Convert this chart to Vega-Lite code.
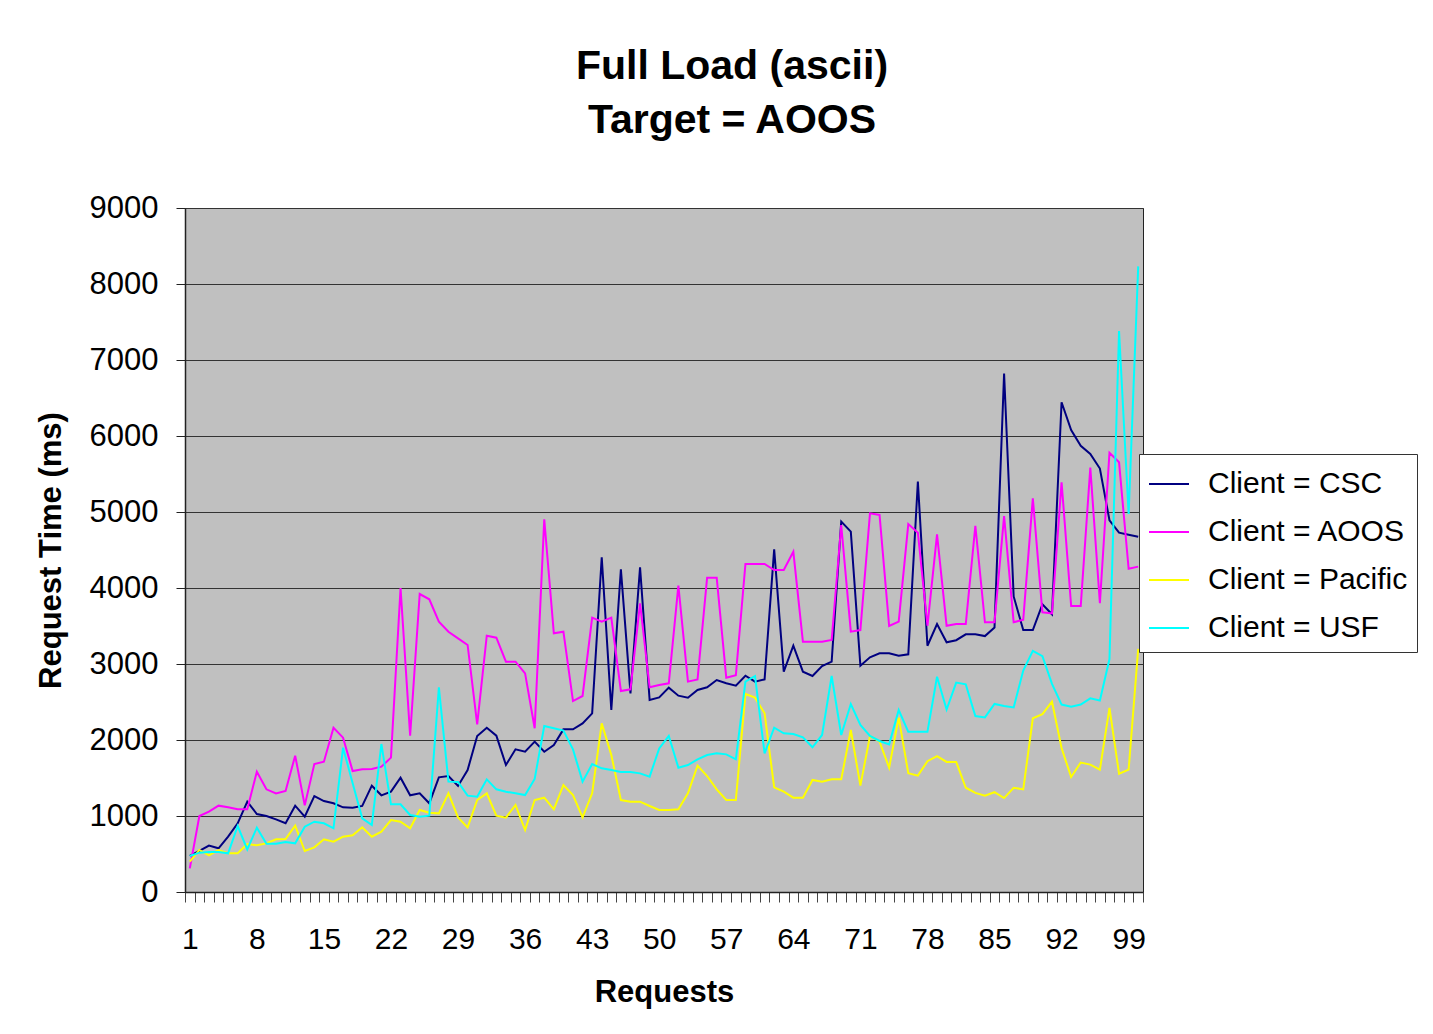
{
  "$schema": "https://vega.github.io/schema/vega-lite/v6.json",
  "width": 958,
  "height": 684,
  "autosize": {"type": "none"},
  "padding": {"left": 185, "top": 208, "right": 290, "bottom": 142},
  "background": "white",
  "title": {
    "text": ["Full Load (ascii)", "Target = AOOS"],
    "font": "Liberation Sans",
    "fontSize": 41,
    "fontWeight": "bold",
    "lineHeight": 54,
    "color": "black",
    "anchor": "middle",
    "baseline": "bottom",
    "offset": 9,
    "dx": 68
  },
  "config": {
    "view": {"fill": "#C0C0C0", "stroke": "#222222", "strokeWidth": 1},
    "font": "Liberation Sans"
  },
  "data": {
    "values": [
      {"r":1,"CSC":474,"AOOS":311,"Pacific":399,"USF":474},
      {"r":2,"CSC":540,"AOOS":1000,"Pacific":553,"USF":518},
      {"r":3,"CSC":610,"AOOS":1057,"Pacific":482,"USF":526},
      {"r":4,"CSC":575,"AOOS":1136,"Pacific":553,"USF":526},
      {"r":5,"CSC":728,"AOOS":1114,"Pacific":509,"USF":509},
      {"r":6,"CSC":904,"AOOS":1088,"Pacific":509,"USF":868},
      {"r":7,"CSC":1189,"AOOS":1088,"Pacific":632,"USF":561},
      {"r":8,"CSC":1026,"AOOS":1583,"Pacific":614,"USF":846},
      {"r":9,"CSC":1000,"AOOS":1351,"Pacific":640,"USF":636},
      {"r":10,"CSC":956,"AOOS":1298,"Pacific":693,"USF":636},
      {"r":11,"CSC":904,"AOOS":1329,"Pacific":697,"USF":658},
      {"r":12,"CSC":1136,"AOOS":1794,"Pacific":873,"USF":640},
      {"r":13,"CSC":991,"AOOS":1140,"Pacific":539,"USF":860},
      {"r":14,"CSC":1263,"AOOS":1684,"Pacific":588,"USF":925},
      {"r":15,"CSC":1197,"AOOS":1715,"Pacific":693,"USF":904},
      {"r":16,"CSC":1167,"AOOS":2162,"Pacific":662,"USF":838},
      {"r":17,"CSC":1114,"AOOS":2031,"Pacific":728,"USF":1899},
      {"r":18,"CSC":1110,"AOOS":1592,"Pacific":746,"USF":1430},
      {"r":19,"CSC":1132,"AOOS":1614,"Pacific":851,"USF":969},
      {"r":20,"CSC":1399,"AOOS":1618,"Pacific":728,"USF":882},
      {"r":21,"CSC":1272,"AOOS":1649,"Pacific":794,"USF":1947},
      {"r":22,"CSC":1320,"AOOS":1768,"Pacific":947,"USF":1154},
      {"r":23,"CSC":1504,"AOOS":4000,"Pacific":925,"USF":1154},
      {"r":24,"CSC":1272,"AOOS":2057,"Pacific":838,"USF":1013},
      {"r":25,"CSC":1298,"AOOS":3921,"Pacific":1079,"USF":991},
      {"r":26,"CSC":1167,"AOOS":3851,"Pacific":1044,"USF":1004},
      {"r":27,"CSC":1509,"AOOS":3557,"Pacific":1035,"USF":2693},
      {"r":28,"CSC":1526,"AOOS":3425,"Pacific":1298,"USF":1452},
      {"r":29,"CSC":1395,"AOOS":3338,"Pacific":982,"USF":1447},
      {"r":30,"CSC":1605,"AOOS":3250,"Pacific":851,"USF":1268},
      {"r":31,"CSC":2053,"AOOS":2206,"Pacific":1210,"USF":1254},
      {"r":32,"CSC":2162,"AOOS":3373,"Pacific":1298,"USF":1482},
      {"r":33,"CSC":2057,"AOOS":3346,"Pacific":1004,"USF":1351},
      {"r":34,"CSC":1671,"AOOS":3031,"Pacific":978,"USF":1320},
      {"r":35,"CSC":1877,"AOOS":3031,"Pacific":1145,"USF":1298},
      {"r":36,"CSC":1846,"AOOS":2877,"Pacific":816,"USF":1276},
      {"r":37,"CSC":1978,"AOOS":2154,"Pacific":1210,"USF":1487},
      {"r":38,"CSC":1846,"AOOS":4904,"Pacific":1241,"USF":2184},
      {"r":39,"CSC":1934,"AOOS":3404,"Pacific":1088,"USF":2154},
      {"r":40,"CSC":2140,"AOOS":3425,"Pacific":1408,"USF":2123},
      {"r":41,"CSC":2140,"AOOS":2513,"Pacific":1276,"USF":1877},
      {"r":42,"CSC":2219,"AOOS":2579,"Pacific":982,"USF":1452},
      {"r":43,"CSC":2350,"AOOS":3610,"Pacific":1298,"USF":1684},
      {"r":44,"CSC":4404,"AOOS":3557,"Pacific":2219,"USF":1627},
      {"r":45,"CSC":2395,"AOOS":3610,"Pacific":1803,"USF":1605},
      {"r":46,"CSC":4246,"AOOS":2645,"Pacific":1210,"USF":1579},
      {"r":47,"CSC":2614,"AOOS":2667,"Pacific":1189,"USF":1579},
      {"r":48,"CSC":4272,"AOOS":3798,"Pacific":1189,"USF":1561},
      {"r":49,"CSC":2526,"AOOS":2693,"Pacific":1132,"USF":1518},
      {"r":50,"CSC":2560,"AOOS":2724,"Pacific":1079,"USF":1890},
      {"r":51,"CSC":2689,"AOOS":2746,"Pacific":1079,"USF":2053},
      {"r":52,"CSC":2583,"AOOS":4031,"Pacific":1088,"USF":1636},
      {"r":53,"CSC":2557,"AOOS":2768,"Pacific":1298,"USF":1671},
      {"r":54,"CSC":2658,"AOOS":2798,"Pacific":1662,"USF":1746},
      {"r":55,"CSC":2693,"AOOS":4136,"Pacific":1526,"USF":1803},
      {"r":56,"CSC":2789,"AOOS":4136,"Pacific":1351,"USF":1825},
      {"r":57,"CSC":2746,"AOOS":2820,"Pacific":1211,"USF":1811},
      {"r":58,"CSC":2715,"AOOS":2851,"Pacific":1211,"USF":1746},
      {"r":59,"CSC":2846,"AOOS":4316,"Pacific":2605,"USF":2768},
      {"r":60,"CSC":2768,"AOOS":4316,"Pacific":2557,"USF":2842},
      {"r":61,"CSC":2798,"AOOS":4316,"Pacific":2351,"USF":1825},
      {"r":62,"CSC":4509,"AOOS":4237,"Pacific":1377,"USF":2162},
      {"r":63,"CSC":2899,"AOOS":4237,"Pacific":1320,"USF":2088},
      {"r":64,"CSC":3241,"AOOS":4478,"Pacific":1241,"USF":2079},
      {"r":65,"CSC":2899,"AOOS":3294,"Pacific":1241,"USF":2035},
      {"r":66,"CSC":2842,"AOOS":3294,"Pacific":1474,"USF":1904},
      {"r":67,"CSC":2974,"AOOS":3294,"Pacific":1452,"USF":2066},
      {"r":68,"CSC":3031,"AOOS":3316,"Pacific":1482,"USF":2842},
      {"r":69,"CSC":4873,"AOOS":4829,"Pacific":1482,"USF":2066},
      {"r":70,"CSC":4741,"AOOS":3425,"Pacific":2132,"USF":2474},
      {"r":71,"CSC":2978,"AOOS":3447,"Pacific":1399,"USF":2197},
      {"r":72,"CSC":3088,"AOOS":4982,"Pacific":2053,"USF":2053},
      {"r":73,"CSC":3140,"AOOS":4961,"Pacific":1978,"USF":1987},
      {"r":74,"CSC":3140,"AOOS":3500,"Pacific":1636,"USF":1943},
      {"r":75,"CSC":3110,"AOOS":3557,"Pacific":2295,"USF":2395},
      {"r":76,"CSC":3127,"AOOS":4841,"Pacific":1562,"USF":2107},
      {"r":77,"CSC":5399,"AOOS":4728,"Pacific":1531,"USF":2107},
      {"r":78,"CSC":3240,"AOOS":3503,"Pacific":1721,"USF":2107},
      {"r":79,"CSC":3526,"AOOS":4705,"Pacific":1789,"USF":2832},
      {"r":80,"CSC":3286,"AOOS":3503,"Pacific":1712,"USF":2401},
      {"r":81,"CSC":3313,"AOOS":3526,"Pacific":1712,"USF":2755},
      {"r":82,"CSC":3390,"AOOS":3526,"Pacific":1372,"USF":2732},
      {"r":83,"CSC":3390,"AOOS":4819,"Pacific":1304,"USF":2315},
      {"r":84,"CSC":3367,"AOOS":3549,"Pacific":1268,"USF":2297},
      {"r":85,"CSC":3481,"AOOS":3549,"Pacific":1313,"USF":2474},
      {"r":86,"CSC":6823,"AOOS":4946,"Pacific":1236,"USF":2447},
      {"r":87,"CSC":3889,"AOOS":3549,"Pacific":1372,"USF":2429},
      {"r":88,"CSC":3447,"AOOS":3583,"Pacific":1350,"USF":2914},
      {"r":89,"CSC":3447,"AOOS":5180,"Pacific":2286,"USF":3174},
      {"r":90,"CSC":3785,"AOOS":3681,"Pacific":2341,"USF":3104},
      {"r":91,"CSC":3654,"AOOS":3665,"Pacific":2504,"USF":2738},
      {"r":92,"CSC":6444,"AOOS":5392,"Pacific":1894,"USF":2466},
      {"r":93,"CSC":6079,"AOOS":3763,"Pacific":1512,"USF":2439},
      {"r":94,"CSC":5872,"AOOS":3763,"Pacific":1703,"USF":2466},
      {"r":95,"CSC":5763,"AOOS":5583,"Pacific":1676,"USF":2548},
      {"r":96,"CSC":5572,"AOOS":3801,"Pacific":1610,"USF":2520},
      {"r":97,"CSC":4891,"AOOS":5779,"Pacific":2422,"USF":3065},
      {"r":98,"CSC":4728,"AOOS":5654,"Pacific":1556,"USF":7381},
      {"r":99,"CSC":4700,"AOOS":4253,"Pacific":1610,"USF":4973},
      {"r":100,"CSC":4673,"AOOS":4281,"Pacific":3200,"USF":8232}
    ]
  },
  "transform": [
    {"fold": ["CSC", "AOOS", "Pacific", "USF"], "as": ["client", "ms"]}
  ],
  "mark": {"type": "line", "strokeWidth": 2, "clip": true},
  "encoding": {
    "x": {
      "field": "r",
      "type": "quantitative",
      "scale": {"domain": [0.5, 100.5], "nice": false, "zero": false},
      "axis": {
        "title": "Requests",
        "titleFont": "Liberation Sans",
        "titleFontSize": 31,
        "titleFontWeight": "bold",
        "titleColor": "black",
        "titlePadding": 23,
        "values": [0.5,1.5,2.5,3.5,4.5,5.5,6.5,7.5,8.5,9.5,10.5,11.5,12.5,13.5,14.5,15.5,16.5,17.5,18.5,19.5,20.5,21.5,22.5,23.5,24.5,25.5,26.5,27.5,28.5,29.5,30.5,31.5,32.5,33.5,34.5,35.5,36.5,37.5,38.5,39.5,40.5,41.5,42.5,43.5,44.5,45.5,46.5,47.5,48.5,49.5,50.5,51.5,52.5,53.5,54.5,55.5,56.5,57.5,58.5,59.5,60.5,61.5,62.5,63.5,64.5,65.5,66.5,67.5,68.5,69.5,70.5,71.5,72.5,73.5,74.5,75.5,76.5,77.5,78.5,79.5,80.5,81.5,82.5,83.5,84.5,85.5,86.5,87.5,88.5,89.5,90.5,91.5,92.5,93.5,94.5,95.5,96.5,97.5,98.5,99.5,100.5],
        "labelExpr": "((datum.value - 0.5) % 7 == 0 && datum.value < 100) ? format(datum.value + 0.5, 'd') : ''",
        "labelOffset": 4.79,
        "labelOverlap": false,
        "labelFlush": false,
        "labelBound": false,
        "labelFont": "Liberation Sans",
        "labelFontSize": 30,
        "labelColor": "black",
        "labelPadding": 22,
        "labelAngle": 0,
        "grid": false,
        "ticks": true,
        "tickSize": 10,
        "tickColor": "#444444",
        "tickWidth": 1,
        "domain": true,
        "domainColor": "#222222",
        "domainWidth": 1.5
      }
    },
    "y": {
      "field": "ms",
      "type": "quantitative",
      "scale": {"domain": [0, 9000], "nice": false},
      "axis": {
        "title": "Request Time (ms)",
        "titleFont": "Liberation Sans",
        "titleFontSize": 31,
        "titleFontWeight": "bold",
        "titleColor": "black",
        "titlePadding": 22,
        "values": [0,1000,2000,3000,4000,5000,6000,7000,8000,9000],
        "format": "d",
        "labelFont": "Liberation Sans",
        "labelFontSize": 31,
        "labelColor": "black",
        "labelPadding": 18,
        "labelFlush": false,
        "labelOverlap": false,
        "grid": true,
        "gridColor": "#333333",
        "gridWidth": 1,
        "gridOpacity": 1,
        "tickSize": 9,
        "tickColor": "#222222",
        "tickWidth": 1,
        "domainColor": "#222222",
        "domainWidth": 1.5
      }
    },
    "color": {
      "field": "client",
      "type": "nominal",
      "scale": {
        "domain": ["CSC", "AOOS", "Pacific", "USF"],
        "range": ["#000080", "#FF00FF", "#FFFF00", "#00FFFF"]
      },
      "legend": {
        "title": null,
        "orient": "none",
        "legendX": 954,
        "legendY": 246,
        "labelExpr": "'Client = ' + datum.label",
        "labelFont": "Liberation Sans",
        "labelFontSize": 30,
        "labelColor": "black",
        "labelOffset": 18,
        "labelLimit": 400,
        "symbolType": "stroke",
        "symbolSize": 1600,
        "symbolStrokeWidth": 2,
        "rowPadding": 12,
        "padding": 9,
        "strokeColor": "#333333",
        "fillColor": "white"
      }
    }
  }
}
